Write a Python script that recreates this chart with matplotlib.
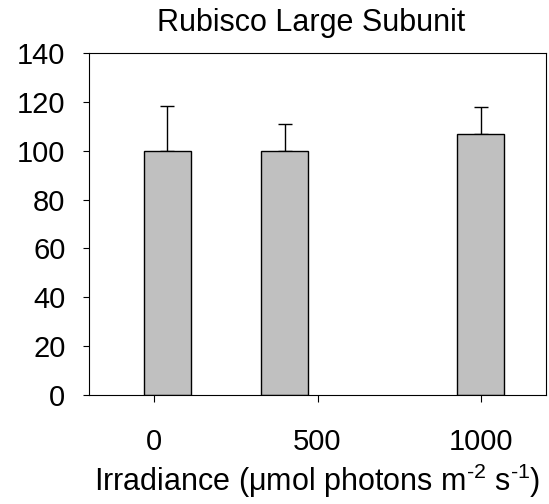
import matplotlib
matplotlib.use("Agg")
import matplotlib.pyplot as plt

plt.rcParams["font.family"] = ["Liberation Sans", "DejaVu Sans"]
plt.rcParams["mathtext.default"] = "regular"

# data
irradiance = [40, 400, 1000]
rubisco = [100, 100, 106.7]
err_up = [18.4, 11.1, 11.3]
xticks = [0, 500, 1000]
yticks = [0, 20, 40, 60, 80, 100, 120, 140]

fig = plt.figure(figsize=(5.49, 5.04), dpi=100)
ax = fig.add_axes([89 / 549, 109 / 504, 457 / 549, 342 / 504])

ax.bar(irradiance, rubisco, width=144, color="#C0C0C0", edgecolor="black",
       linewidth=1.0, zorder=2)
ax.errorbar(irradiance, rubisco, yerr=[[0, 0, 0], err_up], fmt="none",
            ecolor="black", elinewidth=1.0, capsize=5, capthick=1.0, zorder=1)

ax.set_xlim(-200, 1200)
ax.set_ylim(0, 140)
ax.set_xticks(xticks)
ax.set_yticks(yticks)
ax.tick_params(axis="x", direction="out", length=5, width=0.8, pad=19, labelsize=21)
ax.tick_params(axis="y", direction="out", length=4, width=0.8, pad=13, labelsize=21)
for s in ax.spines.values():
    s.set_linewidth(0.8)

ax.set_title("Rubisco Large Subunit", fontsize=22, pad=16, x=0.486)
ax.set_xlabel("Irradiance (μmol photons m$^{\u2010 2}$ s$^{\u2010 1}$)", fontsize=22, labelpad=4)

plt.savefig("out.png", dpi=100)
plt.close()
